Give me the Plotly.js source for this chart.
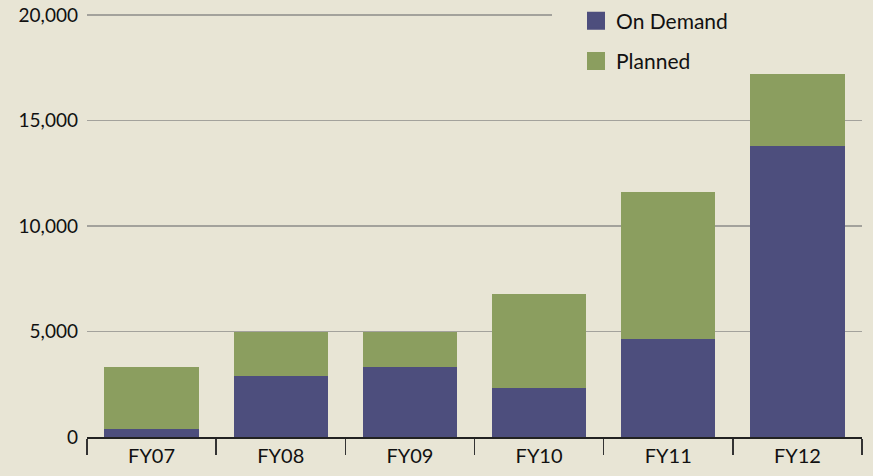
<!DOCTYPE html>
<html>
<head>
<meta charset="utf-8">
<script src="https://cdn.plot.ly/plotly-3.0.1.min.js"></script>
<style>html,body{margin:0;padding:0;background:#e8e5d5;}</style>
</head>
<body>
<div id="chart" style="width:873px;height:476px;"></div>
<script>
var categories = ["FY07", "FY08", "FY09", "FY10", "FY11", "FY12"];
var onDemand = [380, 2900, 3300, 2300, 4650, 13800];
var planned = [2940, 2100, 1700, 4500, 6950, 3400];
var seriesNames = ["On Demand", "Planned"];
var yTicks = [0, 5000, 10000, 15000, 20000];

var purple = "#4d4e7d";
var green = "#8b9e5f";
var bg = "#e8e5d5";

var data = [
  {type: "bar", x: categories, y: onDemand, name: seriesNames[0], marker: {color: purple}, showlegend: false},
  {type: "bar", x: categories, y: planned, name: seriesNames[1], marker: {color: green}, showlegend: false},
  {type: "scatter", mode: "markers", x: [null], y: [null], name: seriesNames[0], legendgroup: "a",
   marker: {symbol: "square", size: 16, color: purple, line: {color: purple, width: 2}}},
  {type: "scatter", mode: "markers", x: [null], y: [null], name: seriesNames[1], legendgroup: "b",
   marker: {symbol: "square", size: 16, color: green, line: {color: green, width: 2}}}
];

var layout = {
  width: 873, height: 476,
  paper_bgcolor: bg, plot_bgcolor: bg,
  margin: {l: 87, r: 11, t: 12, b: 39, autoexpand: false},
  barmode: "stack",
  bargap: 0.27,
  font: {family: "Lato, 'Open Sans', sans-serif", size: 19, color: "#111"},
  showlegend: true,
  legend: {
    x: 0.631, xanchor: "left",
    y: 1.027, yanchor: "top",
    bgcolor: "rgba(0,0,0,0)", traceorder: "grouped", tracegroupgap: 10,
    font: {size: 21, color: "#111"}
  },
  xaxis: {
    type: "category",
    showline: true, linecolor: "#222", linewidth: 1.5,
    ticks: "outside", tickson: "boundaries", ticklen: 16, tickwidth: 1.5, tickcolor: "#333",
    showgrid: false, zeroline: false,
    tickfont: {size: 20, color: "#111"}
  },
  yaxis: {
    range: [0, 20150],
    tickvals: yTicks,
    tickformat: ",d",
    showgrid: true, gridcolor: "#a3a29c", gridwidth: 1.5,
    zeroline: false, showline: false,
    ticks: "", ticklabelstandoff: 8,
    tickfont: {size: 19, color: "#111"}
  },
  shapes: [
    {type: "rect", xref: "paper", yref: "y", x0: 0.6, x1: 1.02, y0: 19500, y1: 20150,
     fillcolor: bg, line: {width: 0}, layer: "above"}
  ]
};

Plotly.newPlot("chart", data, layout, {displayModeBar: false, staticPlot: true});
</script>
</body>
</html>
